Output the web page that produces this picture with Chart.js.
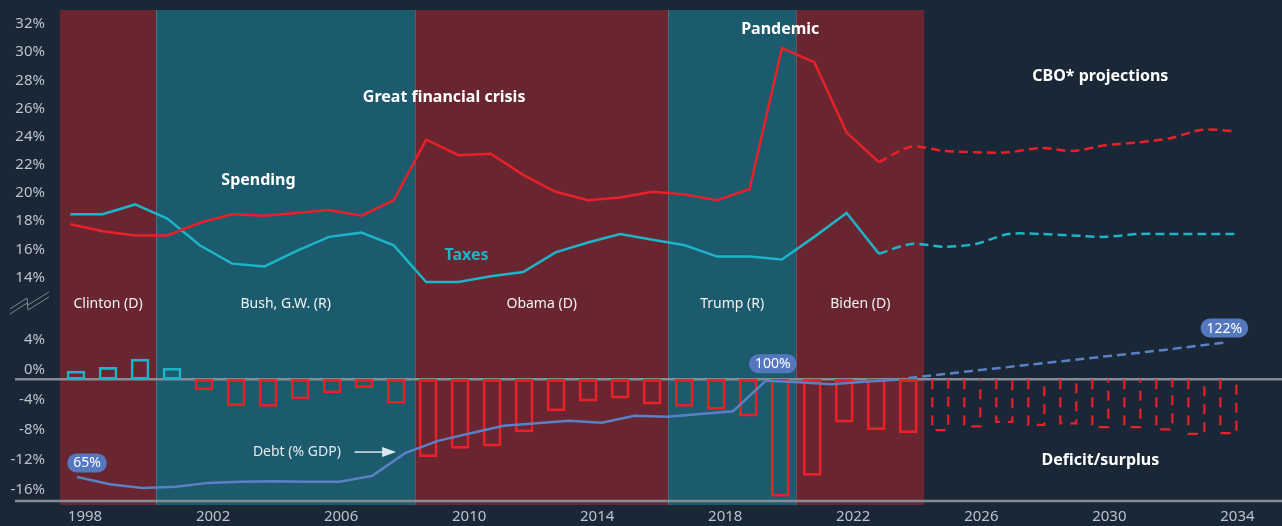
<!DOCTYPE html>
<html>
<head>
<meta charset="utf-8">
<script src="https://cdn.jsdelivr.net/npm/chart.js@4.4.1/dist/chart.umd.min.js"></script>
<style>
  html, body { margin: 0; padding: 0; background: #192737; }
  #wrap { width: 1282px; height: 526px; }
</style>
</head>
<body>
<div id="wrap"><canvas id="fiscal-chart" width="1282" height="526"></canvas></div>
<script>
// spending / taxes, % of GDP (actuals)
const LINE_YEARS = [1998, 1999, 2000, 2001, 2002, 2003, 2004, 2005, 2006, 2007, 2008, 2009, 2010,
  2011, 2012, 2013, 2014, 2015, 2016, 2017, 2018, 2019, 2020, 2021, 2022, 2023];
const SPENDING = [18.5, 18.0, 17.7, 17.7, 18.6, 19.2, 19.1, 19.3, 19.5, 19.1, 20.2, 24.5, 23.4,
  23.5, 22.0, 20.8, 20.2, 20.4, 20.8, 20.6, 20.2, 21.0, 31.0, 30.0, 25.0, 22.9];
const TAXES = [19.2, 19.2, 19.9, 18.9, 17.0, 15.7, 15.5, 16.6, 17.6, 17.9, 17.0, 14.4, 14.4,
  14.8, 15.1, 16.5, 17.2, 17.8, 17.4, 17.0, 16.2, 16.2, 16.0, 17.6, 19.3, 16.4];

// CBO projections
const PROJ_YEARS = [2023, 2024, 2025, 2026, 2027, 2028, 2029, 2030, 2031, 2032, 2033, 2034];
const SPENDING_PROJ = [22.9, 24.0, 23.7, 23.6, 23.6, 23.9, 23.7, 24.1, 24.3, 24.6, 25.2, 25.1];
const TAXES_PROJ = [16.4, 17.1, 16.9, 17.1, 17.8, 17.8, 17.7, 17.6, 17.8, 17.8, 17.8, 17.8];

// deficit / surplus, % of GDP
const BAR_YEARS = [1998, 1999, 2000, 2001, 2002, 2003, 2004, 2005, 2006, 2007, 2008, 2009, 2010,
  2011, 2012, 2013, 2014, 2015, 2016, 2017, 2018, 2019, 2020, 2021, 2022, 2023, 2024];
const DEFICIT = [1.1, 1.6, 2.7, 1.5, -1.4, -3.5, -3.6, -2.6, -1.8, -1.1, -3.2, -10.3, -9.2,
  -8.9, -7.0, -4.2, -2.9, -2.5, -3.3, -3.6, -4.0, -4.9, -15.6, -12.8, -5.7, -6.7, -7.1];
const BAR_PROJ_YEARS = [2025, 2026, 2027, 2028, 2029, 2030, 2031, 2032, 2033, 2034];
const DEFICIT_PROJ = [-6.9, -6.4, -5.8, -6.2, -6.0, -6.5, -6.5, -6.8, -7.4, -7.3];

// debt, % of GDP
const DEBT = [65.6, 63.0, 61.7, 62.1, 63.5, 63.9, 64.1, 63.9, 63.9, 66.0, 74.1, 78.5, 81.2,
  83.9, 84.8, 85.7, 85.0, 87.5, 87.1, 88.1, 89.1, 100.0, 99.4, 98.7, 99.6, 100.3];
const DEBT_PROJ_YEARS = [2024, 2025, 2026, 2027, 2028, 2029, 2030, 2031, 2032, 2033, 2034];
const DEBT_PROJ = [101.0, 102.2, 103.5, 104.7, 106.0, 107.2, 108.5, 109.7, 111.0, 112.4, 113.8];

// presidencies
const TERMS = ['Clinton (D)', 'Bush, G.W. (R)', 'Obama (D)', 'Trump (R)', 'Biden (D)'];
const TERM_START = [1997.5, 2000.5, 2008.6, 2016.5, 2020.5];
const TERM_END = [2000.5, 2008.6, 2016.5, 2020.5, 2024.5];
const TERM_PARTY = ['D', 'R', 'D', 'R', 'D'];

const X_TICKS = [1998, 2002, 2006, 2010, 2014, 2018, 2022, 2026, 2030, 2034];
const TOP_TICKS = [14, 16, 18, 20, 22, 24, 26, 28, 30, 32];
const BOTTOM_TICKS = [4, 0, -4, -8, -12, -16];

const COLORS = {
  bg: '#192737',
  D: '#6a2630',
  R: '#1c5b6d',
  spending: '#e8202a',
  taxes: '#1db4c8',
  debt: '#5a80c6',
  axis: '#bcc2ca',
  rule: '#858c95',
};
const FONT = '"Noto Sans", "Open Sans", sans-serif';

// text labels, placed in data units (x: year, y: value on the named axis)
const NOTES = [
  { text: 'Spending', x: 2003.7, y: 21.6, axis: 'yTop', color: '#ffffff', bold: true },
  { text: 'Great financial crisis', x: 2009.5, y: 27.5, axis: 'yTop', color: '#ffffff', bold: true },
  { text: 'Pandemic', x: 2020.0, y: 32.35, axis: 'yTop', color: '#ffffff', bold: true },
  { text: 'CBO* projections', x: 2030.0, y: 28.95, axis: 'yTop', color: '#ffffff', bold: true },
  { text: 'Taxes', x: 2010.2, y: 16.25, axis: 'yTop', color: COLORS.taxes, bold: true },
  { text: 'Deficit/surplus', x: 2030.0, y: -10.8, axis: 'yBot', color: '#ffffff', bold: true },
  { text: 'Debt (% GDP)', x: 2004.9, y: -9.7, axis: 'yBot', color: '#e6eaee', bold: false },
];

const pts = (xs, ys) => xs.map((x, i) => ({ x, y: ys[i] }));

const decor = {
  id: 'decor',
  beforeDraw(chart) {
    const { ctx, width, height } = chart;
    ctx.save();
    ctx.fillStyle = COLORS.bg;
    ctx.fillRect(0, 0, width, height);
    ctx.restore();
  },
  beforeDatasetsDraw(chart) {
    const { ctx, chartArea, scales } = chart;
    const x = scales.x;
    ctx.save();
    // presidency bands
    TERMS.forEach((name, i) => {
      const x0 = x.getPixelForValue(TERM_START[i]);
      const x1 = x.getPixelForValue(TERM_END[i]);
      ctx.fillStyle = COLORS[TERM_PARTY[i]];
      ctx.fillRect(x0, chartArea.top, x1 - x0, chartArea.bottom - chartArea.top);
      if (i > 0) {
        ctx.fillStyle = 'rgba(200,200,200,0.25)';
        ctx.fillRect(Math.round(x0), chartArea.top, 1, chartArea.bottom - chartArea.top);
      }
    });
    // zero line and base line
    ctx.strokeStyle = COLORS.rule;
    ctx.lineWidth = 2.5;
    const y0 = scales.yBot.getPixelForValue(0);
    [y0, chartArea.bottom - 4].forEach(yy => {
      ctx.beginPath();
      ctx.moveTo(15, yy);
      ctx.lineTo(chart.width, yy);
      ctx.stroke();
    });
    // axis break mark
    const bx = chartArea.left, by = scales.yTop.bottom;
    ctx.lineWidth = 1;
    ctx.strokeStyle = '#7d8690';
    [0, 5].forEach(d => {
      ctx.beginPath();
      ctx.moveTo(bx - 50, by - 11 + d);
      ctx.lineTo(bx - 33, by - 22 + d);
      ctx.lineTo(bx - 32, by - 15 + d);
      ctx.lineTo(bx - 11, by - 28 + d);
      ctx.stroke();
    });
    ctx.restore();
  },
  afterDatasetsDraw(chart) {
    const { ctx, scales } = chart;
    ctx.save();
    // dashed projection bars
    const barMeta = chart.getDatasetMeta(1);
    ctx.strokeStyle = COLORS.spending;
    ctx.lineWidth = 2.2;
    ctx.setLineDash([10, 8]);
    barMeta.data.forEach(el => {
      const { x, y, base, width } = el.getProps(['x', 'y', 'base', 'width'], true);
      const l = x - width / 2 + 1, r = x + width / 2 - 1, b = y - 1;
      ctx.beginPath();
      ctx.moveTo(l, base);
      ctx.lineTo(l, b);
      ctx.lineTo(r, b);
      ctx.lineTo(r, base);
      ctx.stroke();
    });
    ctx.setLineDash([]);

    // president names
    ctx.fillStyle = '#f2f2f2';
    ctx.font = '14px ' + FONT;
    ctx.textAlign = 'center';
    ctx.textBaseline = 'middle';
    TERMS.forEach((name, i) => {
      const cx = scales.x.getPixelForValue((TERM_START[i] + TERM_END[i]) / 2);
      ctx.fillText(name, cx, scales.yTop.getPixelForValue(12.85));
    });

    // notes
    NOTES.forEach(n => {
      ctx.font = (n.bold ? 'bold 16px ' : '14px ') + FONT;
      ctx.fillStyle = n.color;
      ctx.fillText(n.text, scales.x.getPixelForValue(n.x), scales[n.axis].getPixelForValue(n.y));
    });

    // arrow to the debt line
    const ay = scales.yBot.getPixelForValue(-9.7);
    const ax0 = scales.x.getPixelForValue(2006.7);
    const ax1 = scales.x.getPixelForValue(2008.0);
    ctx.strokeStyle = '#dde7ee';
    ctx.fillStyle = '#dde7ee';
    ctx.lineWidth = 1.5;
    ctx.beginPath();
    ctx.moveTo(ax0, ay);
    ctx.lineTo(ax1 - 12, ay);
    ctx.stroke();
    ctx.beginPath();
    ctx.moveTo(ax1, ay);
    ctx.lineTo(ax1 - 14, ay - 5);
    ctx.lineTo(ax1 - 14, ay + 5);
    ctx.closePath();
    ctx.fill();

    // debt badges: first year, first year at 100%, last projected year
    const debtMeta = chart.getDatasetMeta(2);
    const projMeta = chart.getDatasetMeta(3);
    const badges = [
      { el: debtMeta.data[0], text: '65%', dx: 10, dy: -14 },
      { el: debtMeta.data[DEBT.findIndex(v => v >= 100)], text: '100%', dx: 7, dy: -17 },
      { el: projMeta.data[projMeta.data.length - 1], text: '122%', dx: -4, dy: -14 },
    ];
    ctx.font = '14px ' + FONT;
    badges.forEach(b => {
      const cx = b.el.x + b.dx, cy = b.el.y + b.dy;
      const w = ctx.measureText(b.text).width + 12, h = 19;
      ctx.fillStyle = '#5478c0';
      ctx.beginPath();
      ctx.roundRect(cx - w / 2, cy - h / 2, w, h, h / 2);
      ctx.fill();
      ctx.fillStyle = '#ffffff';
      ctx.fillText(b.text, cx, cy + 0.5);
    });
    ctx.restore();
  },
};

const pctTick = v => v + '%';
// fixed axis boxes so the plot area lands where the reference has it
const fitY = s => { s.width = 60; s.paddingTop = 0; s.paddingBottom = 0; };
const fitX = s => { s.height = 21; s.paddingLeft = 0; s.paddingRight = 0; };
const hiddenFit = s => { s.height = 0; s.paddingLeft = 0; s.paddingRight = 0; };

const lineSet = (label, xs, ys, axisY, axisX, color, dashed) => ({
  type: 'line',
  label,
  data: pts(xs, ys),
  xAxisID: axisX,
  yAxisID: axisY,
  borderColor: color,
  borderWidth: 2.5,
  borderDash: dashed ? [9, 5] : [],
  tension: dashed && axisY === 'yTop' ? 0.3 : 0,
  pointRadius: 0,
  order: axisY === 'yTop' ? 1 : 3,
});

new Chart(document.getElementById('fiscal-chart'), {
  data: {
    datasets: [
      {
        type: 'bar',
        label: 'Deficit/surplus',
        data: pts(BAR_YEARS, DEFICIT),
        yAxisID: 'yBot',
        backgroundColor: 'transparent',
        borderColor: DEFICIT.map(v => (v >= 0 ? COLORS.taxes : COLORS.spending)),
        borderWidth: 2,
        borderSkipped: false,
        barThickness: 18,
        grouped: false,
        order: 5,
      },
      {
        type: 'bar',
        label: 'Deficit projection',
        data: pts(BAR_PROJ_YEARS, DEFICIT_PROJ),
        yAxisID: 'yBot',
        backgroundColor: 'transparent',
        borderWidth: 0,
        barThickness: 18,
        grouped: false,
        order: 5,
      },
      lineSet('Debt', LINE_YEARS, DEBT, 'yDebt', 'xDebt', COLORS.debt, false),
      lineSet('Debt projection', DEBT_PROJ_YEARS, DEBT_PROJ, 'yDebt', 'x', COLORS.debt, true),
      lineSet('Spending', LINE_YEARS, SPENDING, 'yTop', 'xLines', COLORS.spending, false),
      lineSet('Spending projection', PROJ_YEARS, SPENDING_PROJ, 'yTop', 'xLines', COLORS.spending, true),
      lineSet('Taxes', LINE_YEARS, TAXES, 'yTop', 'xLines', COLORS.taxes, false),
      lineSet('Taxes projection', PROJ_YEARS, TAXES_PROJ, 'yTop', 'xLines', COLORS.taxes, true),
    ],
  },
  options: {
    responsive: false,
    animation: false,
    events: [],
    devicePixelRatio: 1,
    layout: { padding: { top: 10, right: 12, bottom: 0, left: 0 } },
    plugins: { legend: { display: false }, tooltip: { enabled: false } },
    scales: {
      x: {
        type: 'linear',
        min: 1997.5,
        max: 2035.3,
        offset: false,
        grid: { display: false, drawTicks: false, offset: false },
        border: { display: false },
        afterBuildTicks: s => { s.ticks = X_TICKS.map(v => ({ value: v })); },
        afterFit: fitX,
        ticks: {
          callback: v => String(v),
          color: COLORS.axis,
          font: { family: FONT, size: 15 },
          padding: 3,
          labelOffset: 9,
          maxRotation: 0,
          autoSkip: false,
        },
      },
      // the spending/taxes and debt lines sit on slightly different year grids in the source
      xLines: {
        type: 'linear', position: 'bottom', display: false, offset: false,
        min: 1997.68, max: 2035.09, afterFit: hiddenFit,
      },
      xDebt: {
        type: 'linear', position: 'bottom', display: false, offset: false,
        min: 1997.48, max: 2034.37, afterFit: hiddenFit,
      },
      yBot: {
        type: 'linear',
        position: 'left',
        stack: 'v',
        stackWeight: 185,
        min: -16.76,
        max: 7.91,
        grid: { display: false, drawTicks: false },
        border: { display: false },
        afterBuildTicks: s => { s.ticks = BOTTOM_TICKS.map(v => ({ value: v })); },
        afterFit: fitY,
        ticks: {
          callback: pctTick,
          color: COLORS.axis,
          font: { family: FONT, size: 15 },
          padding: 15,
          labelOffset: -10,
          autoSkip: false,
        },
      },
      yTop: {
        type: 'linear',
        position: 'left',
        stack: 'v',
        stackWeight: 310,
        min: 11.7,
        max: 33.7,
        grid: { display: false, drawTicks: false },
        border: { display: false },
        afterBuildTicks: s => { s.ticks = TOP_TICKS.map(v => ({ value: v })); },
        afterFit: fitY,
        ticks: {
          callback: pctTick,
          color: COLORS.axis,
          font: { family: FONT, size: 15 },
          padding: 15,
          labelOffset: -10,
          autoSkip: false,
        },
      },
      yDebt: {
        type: 'linear',
        position: 'right',
        display: false,
        min: 55.6,
        max: 232.4,
      },
    },
  },
  plugins: [decor],
});
</script>
</body>
</html>
